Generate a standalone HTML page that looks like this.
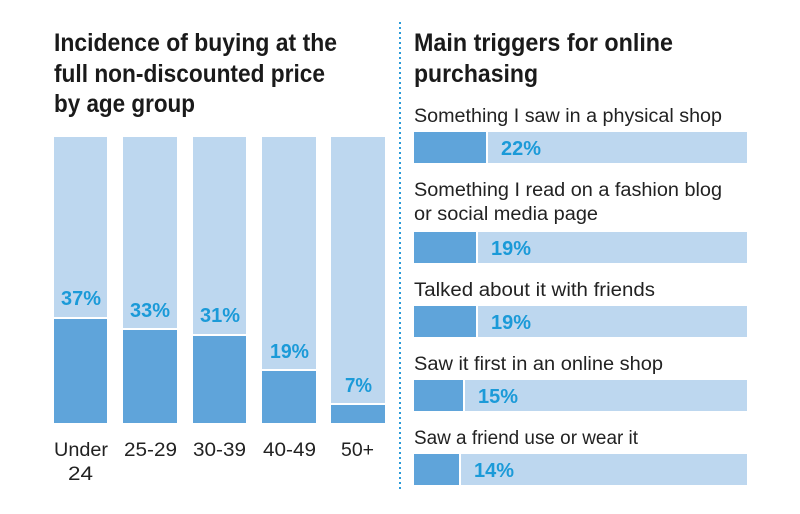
<!DOCTYPE html>
<html><head><meta charset="utf-8"><style>
html,body{margin:0;padding:0;background:#fff;}
svg{display:block;}
text{font-family:"Liberation Sans",sans-serif;}
.t{font-family:"Liberation Sans Narrow","Liberation Sans",sans-serif;font-weight:bold;font-size:25px;fill:#1a1a1a;}
.c{font-size:19px;fill:#222;}
.p{font-size:20px;font-weight:bold;fill:#1b9ad8;}
</style></head><body>
<svg width="800" height="514" viewBox="0 0 800 514">
<text class="t" x="54" y="51" textLength="283" lengthAdjust="spacingAndGlyphs">Incidence of buying at the</text>
<text class="t" x="54" y="82" textLength="271" lengthAdjust="spacingAndGlyphs">full non-discounted price</text>
<text class="t" x="54" y="112" textLength="141" lengthAdjust="spacingAndGlyphs">by age group</text>
<text class="t" x="414" y="51" textLength="259" lengthAdjust="spacingAndGlyphs">Main triggers for online</text>
<text class="t" x="414" y="82" textLength="124" lengthAdjust="spacingAndGlyphs">purchasing</text>
<line x1="400" y1="22" x2="400" y2="492" stroke="#2a9ad8" stroke-width="2" stroke-dasharray="2,3"/>
<g fill="#bdd7ef">
<rect x="54" y="137" width="53" height="286"/><rect x="123" y="137" width="54" height="286"/>
<rect x="193" y="137" width="53" height="286"/><rect x="262" y="137" width="54" height="286"/>
<rect x="331" y="137" width="54" height="286"/>
</g>
<g fill="#5fa4da">
<rect x="54" y="319" width="53" height="104"/><rect x="123" y="330" width="54" height="93"/>
<rect x="193" y="336" width="53" height="87"/><rect x="262" y="371" width="54" height="52"/>
<rect x="331" y="405" width="54" height="18"/>
</g>
<g fill="#fff"><rect x="54" y="317" width="53" height="2"/><rect x="123" y="328" width="54" height="2"/><rect x="193" y="334" width="53" height="2"/><rect x="262" y="369" width="54" height="2"/><rect x="331" y="403" width="54" height="2"/></g>
<g class="p">
<text x="61" y="305" textLength="40" lengthAdjust="spacingAndGlyphs">37%</text>
<text x="130" y="317" textLength="40" lengthAdjust="spacingAndGlyphs">33%</text>
<text x="200" y="322" textLength="40" lengthAdjust="spacingAndGlyphs">31%</text>
<text x="270" y="358" textLength="39" lengthAdjust="spacingAndGlyphs">19%</text>
<text x="345" y="392" textLength="27" lengthAdjust="spacingAndGlyphs">7%</text>
</g>
<g class="c">
<text x="54" y="456" textLength="54" lengthAdjust="spacingAndGlyphs">Under</text>
<text x="68" y="480" textLength="25" lengthAdjust="spacingAndGlyphs">24</text>
<text x="124" y="456" textLength="53" lengthAdjust="spacingAndGlyphs">25-29</text>
<text x="193" y="456" textLength="53" lengthAdjust="spacingAndGlyphs">30-39</text>
<text x="263" y="456" textLength="53" lengthAdjust="spacingAndGlyphs">40-49</text>
<text x="341" y="456" textLength="33" lengthAdjust="spacingAndGlyphs">50+</text>
</g>
<g class="c">
<text x="414" y="122" textLength="308" lengthAdjust="spacingAndGlyphs">Something I saw in a physical shop</text>
<text x="414" y="196" textLength="308" lengthAdjust="spacingAndGlyphs">Something I read on a fashion blog</text>
<text x="414" y="220" textLength="184" lengthAdjust="spacingAndGlyphs">or social media page</text>
<text x="414" y="296" textLength="241" lengthAdjust="spacingAndGlyphs">Talked about it with friends</text>
<text x="414" y="370" textLength="249" lengthAdjust="spacingAndGlyphs">Saw it first in an online shop</text>
<text x="414" y="444" textLength="224" lengthAdjust="spacingAndGlyphs">Saw a friend use or wear it</text>
</g>
<g fill="#bdd7ef">
<rect x="414" y="132" width="333" height="31"/><rect x="414" y="232" width="333" height="31"/>
<rect x="414" y="306" width="333" height="31"/><rect x="414" y="380" width="333" height="31"/>
<rect x="414" y="454" width="333" height="31"/>
</g>
<g fill="#5fa4da">
<rect x="414" y="132" width="72" height="31"/><rect x="414" y="232" width="62" height="31"/>
<rect x="414" y="306" width="62" height="31"/><rect x="414" y="380" width="49" height="31"/>
<rect x="414" y="454" width="45" height="31"/>
</g>
<g fill="#fff"><rect x="486" y="132" width="2" height="31"/><rect x="476" y="232" width="2" height="31"/><rect x="476" y="306" width="2" height="31"/><rect x="463" y="380" width="2" height="31"/><rect x="459" y="454" width="2" height="31"/></g>
<g class="p">
<text x="501" y="155" textLength="40" lengthAdjust="spacingAndGlyphs">22%</text>
<text x="491" y="255" textLength="40" lengthAdjust="spacingAndGlyphs">19%</text>
<text x="491" y="329" textLength="40" lengthAdjust="spacingAndGlyphs">19%</text>
<text x="478" y="403" textLength="40" lengthAdjust="spacingAndGlyphs">15%</text>
<text x="474" y="477" textLength="40" lengthAdjust="spacingAndGlyphs">14%</text>
</g>
</svg>
</body></html>
